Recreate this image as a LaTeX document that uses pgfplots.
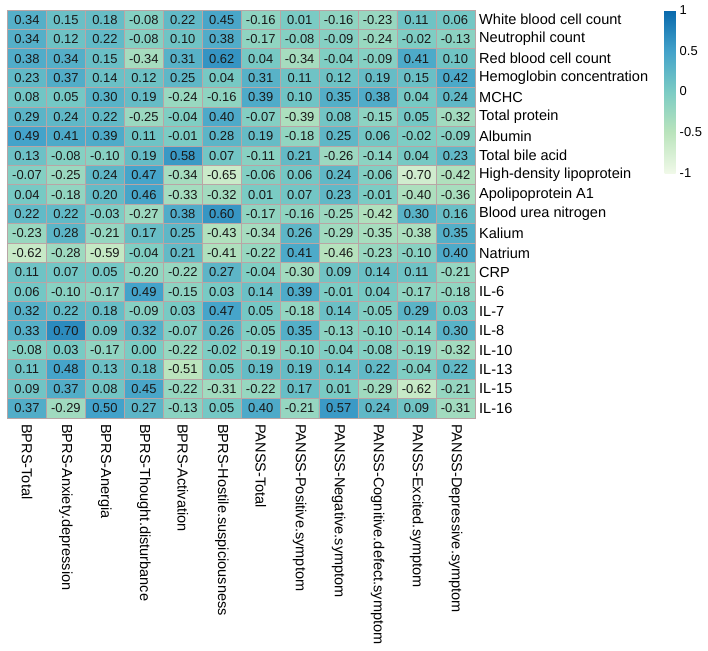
\documentclass[border=0pt]{standalone}
\usepackage{pgfplots}
\pgfplotsset{compat=1.18}
\usepackage{pgfplotstable}
\usepackage{fontspec}
\setmainfont{Liberation Sans}
\definecolor{gridc}{RGB}{185,165,165}
\pgfplotsset{/pgf/number format/assume math mode=true}
\pgfplotstableread[row sep=\\]{
x y v\\
0 0 0.34\\ 1 0 0.15\\ 2 0 0.18\\ 3 0 -0.08\\ 4 0 0.22\\ 5 0 0.45\\ 6 0 -0.16\\ 7 0 0.01\\ 8 0 -0.16\\ 9 0 -0.23\\ 10 0 0.11\\ 11 0 0.06\\
0 1 0.34\\ 1 1 0.12\\ 2 1 0.22\\ 3 1 -0.08\\ 4 1 0.10\\ 5 1 0.38\\ 6 1 -0.17\\ 7 1 -0.08\\ 8 1 -0.09\\ 9 1 -0.24\\ 10 1 -0.02\\ 11 1 -0.13\\
0 2 0.38\\ 1 2 0.34\\ 2 2 0.15\\ 3 2 -0.34\\ 4 2 0.31\\ 5 2 0.62\\ 6 2 0.04\\ 7 2 -0.34\\ 8 2 -0.04\\ 9 2 -0.09\\ 10 2 0.41\\ 11 2 0.10\\
0 3 0.23\\ 1 3 0.37\\ 2 3 0.14\\ 3 3 0.12\\ 4 3 0.25\\ 5 3 0.04\\ 6 3 0.31\\ 7 3 0.11\\ 8 3 0.12\\ 9 3 0.19\\ 10 3 0.15\\ 11 3 0.42\\
0 4 0.08\\ 1 4 0.05\\ 2 4 0.30\\ 3 4 0.19\\ 4 4 -0.24\\ 5 4 -0.16\\ 6 4 0.39\\ 7 4 0.10\\ 8 4 0.35\\ 9 4 0.38\\ 10 4 0.04\\ 11 4 0.24\\
0 5 0.29\\ 1 5 0.24\\ 2 5 0.22\\ 3 5 -0.25\\ 4 5 -0.04\\ 5 5 0.40\\ 6 5 -0.07\\ 7 5 -0.39\\ 8 5 0.08\\ 9 5 -0.15\\ 10 5 0.05\\ 11 5 -0.32\\
0 6 0.49\\ 1 6 0.41\\ 2 6 0.39\\ 3 6 0.11\\ 4 6 -0.01\\ 5 6 0.28\\ 6 6 0.19\\ 7 6 -0.18\\ 8 6 0.25\\ 9 6 0.06\\ 10 6 -0.02\\ 11 6 -0.09\\
0 7 0.13\\ 1 7 -0.08\\ 2 7 -0.10\\ 3 7 0.19\\ 4 7 0.58\\ 5 7 0.07\\ 6 7 -0.11\\ 7 7 0.21\\ 8 7 -0.26\\ 9 7 -0.14\\ 10 7 0.04\\ 11 7 0.23\\
0 8 -0.07\\ 1 8 -0.25\\ 2 8 0.24\\ 3 8 0.47\\ 4 8 -0.34\\ 5 8 -0.65\\ 6 8 -0.06\\ 7 8 0.06\\ 8 8 0.24\\ 9 8 -0.06\\ 10 8 -0.70\\ 11 8 -0.42\\
0 9 0.04\\ 1 9 -0.18\\ 2 9 0.20\\ 3 9 0.46\\ 4 9 -0.33\\ 5 9 -0.32\\ 6 9 0.01\\ 7 9 0.07\\ 8 9 0.23\\ 9 9 -0.01\\ 10 9 -0.40\\ 11 9 -0.36\\
0 10 0.22\\ 1 10 0.22\\ 2 10 -0.03\\ 3 10 -0.27\\ 4 10 0.38\\ 5 10 0.60\\ 6 10 -0.17\\ 7 10 -0.16\\ 8 10 -0.25\\ 9 10 -0.42\\ 10 10 0.30\\ 11 10 0.16\\
0 11 -0.23\\ 1 11 0.28\\ 2 11 -0.21\\ 3 11 0.17\\ 4 11 0.25\\ 5 11 -0.43\\ 6 11 -0.34\\ 7 11 0.26\\ 8 11 -0.29\\ 9 11 -0.35\\ 10 11 -0.38\\ 11 11 0.35\\
0 12 -0.62\\ 1 12 -0.28\\ 2 12 -0.59\\ 3 12 -0.04\\ 4 12 0.21\\ 5 12 -0.41\\ 6 12 -0.22\\ 7 12 0.41\\ 8 12 -0.46\\ 9 12 -0.23\\ 10 12 -0.10\\ 11 12 0.40\\
0 13 0.11\\ 1 13 0.07\\ 2 13 0.05\\ 3 13 -0.20\\ 4 13 -0.22\\ 5 13 0.27\\ 6 13 -0.04\\ 7 13 -0.30\\ 8 13 0.09\\ 9 13 0.14\\ 10 13 0.11\\ 11 13 -0.21\\
0 14 0.06\\ 1 14 -0.10\\ 2 14 -0.17\\ 3 14 0.49\\ 4 14 -0.15\\ 5 14 0.03\\ 6 14 0.14\\ 7 14 0.39\\ 8 14 -0.01\\ 9 14 0.04\\ 10 14 -0.17\\ 11 14 -0.18\\
0 15 0.32\\ 1 15 0.22\\ 2 15 0.18\\ 3 15 -0.09\\ 4 15 0.03\\ 5 15 0.47\\ 6 15 0.05\\ 7 15 -0.18\\ 8 15 0.14\\ 9 15 -0.05\\ 10 15 0.29\\ 11 15 0.03\\
0 16 0.33\\ 1 16 0.70\\ 2 16 0.09\\ 3 16 0.32\\ 4 16 -0.07\\ 5 16 0.26\\ 6 16 -0.05\\ 7 16 0.35\\ 8 16 -0.13\\ 9 16 -0.10\\ 10 16 -0.14\\ 11 16 0.30\\
0 17 -0.08\\ 1 17 0.03\\ 2 17 -0.17\\ 3 17 0.00\\ 4 17 -0.22\\ 5 17 -0.02\\ 6 17 -0.19\\ 7 17 -0.10\\ 8 17 -0.04\\ 9 17 -0.08\\ 10 17 -0.19\\ 11 17 -0.32\\
0 18 0.11\\ 1 18 0.48\\ 2 18 0.13\\ 3 18 0.18\\ 4 18 -0.51\\ 5 18 0.05\\ 6 18 0.19\\ 7 18 0.19\\ 8 18 0.14\\ 9 18 0.22\\ 10 18 -0.04\\ 11 18 0.22\\
0 19 0.09\\ 1 19 0.37\\ 2 19 0.08\\ 3 19 0.45\\ 4 19 -0.22\\ 5 19 -0.31\\ 6 19 -0.22\\ 7 19 0.17\\ 8 19 0.01\\ 9 19 -0.29\\ 10 19 -0.62\\ 11 19 -0.21\\
0 20 0.37\\ 1 20 -0.29\\ 2 20 0.50\\ 3 20 0.27\\ 4 20 -0.13\\ 5 20 0.05\\ 6 20 0.40\\ 7 20 -0.21\\ 8 20 0.57\\ 9 20 0.24\\ 10 20 0.09\\ 11 20 -0.31\\
}\cells
\begin{document}
\begin{tikzpicture}
\useasboundingbox (-7.5bp,10bp) rectangle (700.5bp,-641bp);
\begin{axis}[
  at={(0,0)}, anchor=north west,
  scale only axis, width=467.5bp, height=408bp,
  xmin=-0.5, xmax=11.5, ymin=-0.5, ymax=20.5,
  enlargelimits=false,
  y dir=reverse,
  colormap={gnbu}{rgb255=(240,249,232) rgb255=(186,228,188) rgb255=(123,204,196) rgb255=(67,162,202) rgb255=(8,104,172)},
  point meta min=-1, point meta max=1,
  xtick={0,...,11}, ytick={0,...,20},
  minor xtick={-0.5,0.5,...,11.5}, minor ytick={-0.5,0.5,...,20.5},
  grid=minor, minor grid style={draw=gridc, line width=0.8pt},
  major tick length=0pt, minor tick length=0pt,
  axis line style={draw=gridc, line width=0.8pt},
  axis on top,
  xticklabels={BPRS-Total,BPRS-Anxiety.depression,BPRS-Anergia,BPRS-Thought.disturbance,BPRS-Activation,BPRS-Hostile.suspiciousness,PANSS-Total,PANSS-Positive.symptom,PANSS-Negative.symptom,PANSS-Cognitive.defect.symptom,PANSS-Excited.symptom,PANSS-Depressive.symptom},
  yticklabels={White blood cell count,Neutrophil count,Red blood cell count,Hemoglobin concentration,MCHC,Total protein,Albumin,Total bile acid,High-density lipoprotein,Apolipoprotein A1,Blood urea nitrogen,Kalium,Natrium,CRP,IL-6,IL-7,IL-8,IL-10,IL-13,IL-15,IL-16},
  xticklabel style={rotate=-90, anchor=west, inner sep=0pt, font=\fontsize{14.6}{16}\selectfont},
  xticklabel shift=6bp,
  yticklabel pos=right,
  yticklabel style={anchor=west, inner sep=0pt, font=\fontsize{14.6}{16}\selectfont},
  yticklabel shift=4bp,
  colorbar,
  colorbar style={
    at={(parent axis.north east)}, anchor=north west,
    xshift=181bp,
    scale only axis, width=11bp, height=163bp,
    ytick={-1,-0.5,0,0.5,1},
    yticklabels={-1,-0.5,0,0.5,1},
    yticklabel style={font=\fontsize{13}{14}\selectfont, inner sep=0pt, anchor=west},
    yticklabel shift=4bp,
    major tick length=0pt,
    axis line style={draw=none},
  },
]
\addplot[matrix plot*, mesh/cols=12, point meta=explicit] table[x=x, y=y, meta=v]{\cells};
\addplot[only marks, mark=*, mark size=0pt, mark options={draw=none, fill=none},
  point meta=explicit symbolic, nodes near coords,
  nodes near coords style={anchor=center, inner sep=0pt, text=black!90, font=\fontsize{13}{14}\selectfont}]
  table[x=x, y=y, meta=v]{\cells};
\end{axis}
\end{tikzpicture}
\end{document}
